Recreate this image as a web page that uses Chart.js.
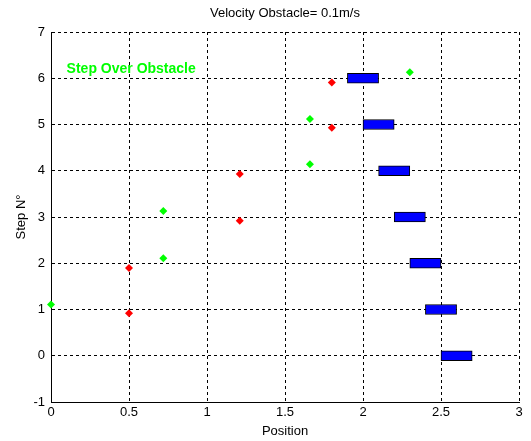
<!DOCTYPE html>
<html>
<head>
<meta charset="utf-8">
<script src="https://cdn.jsdelivr.net/npm/chart.js@4/dist/chart.umd.min.js"></script>
<style>
html,body{margin:0;padding:0;background:#fff;}
#wrap{width:531px;height:441px;}
</style>
</head>
<body>
<div id="wrap"><canvas id="c" width="531" height="441"></canvas></div>
<script>
const steps = [0, 1, 2, 3, 4, 5, 6];
const obstacleStart = [2.5, 2.4, 2.3, 2.2, 2.1, 2.0, 1.9];
const obstacleEnd = [2.7, 2.6, 2.5, 2.4, 2.3, 2.2, 2.1];
const redX = [0.5, 0.5, 1.21, 1.21, 1.8, 1.8];
const redY = [0.92, 1.9, 2.92, 3.93, 4.93, 5.91];
const greenX = [0, 0.72, 0.72, 1.66, 1.66, 2.3];
const greenY = [1.11, 2.11, 3.13, 4.14, 5.12, 6.13];
const xTicks = [0, 0.5, 1, 1.5, 2, 2.5, 3];
const yTicks = [-1, 0, 1, 2, 3, 4, 5, 6, 7];
const titleText = 'Velocity Obstacle= 0.1m/s';
const xLabel = 'Position';
const yLabel = 'Step N°';
const noteText = 'Step Over Obstacle';
const noteAt = [0.1, 6.2];

const FONT = 'Liberation Sans, Arial, Helvetica, sans-serif';

const notePlugin = {
  id: 'note',
  afterDatasetsDraw(chart) {
    const ctx = chart.ctx;
    const xs = chart.scales.x, ys = chart.scales.y;
    const area = chart.chartArea;
    ctx.save();
    ctx.font = 'bold 14px ' + FONT;
    ctx.fillStyle = '#00ff00';
    ctx.textAlign = 'left';
    ctx.textBaseline = 'middle';
    ctx.fillText(noteText, xs.getPixelForValue(noteAt[0]), ys.getPixelForValue(noteAt[1]));
    ctx.font = '13px ' + FONT;
    ctx.fillStyle = '#000';
    ctx.textAlign = 'center';
    ctx.fillText(titleText, (area.left + area.right) / 2, 13);
    ctx.restore();
  }
};

new Chart(document.getElementById('c'), {
  type: 'bar',
  data: {
    datasets: [
      {
        type: 'bar',
        indexAxis: 'y',
        label: 'Obstacle',
        data: steps.map((s, i) => ({ x: [obstacleStart[i], obstacleEnd[i]], y: s })),
        backgroundColor: '#0000ff',
        borderColor: '#000000',
        borderWidth: 1,
        borderSkipped: false,
        barThickness: 10,
        xAxisID: 'x',
        yAxisID: 'y'
      },
      {
        type: 'scatter',
        label: 'Red',
        data: redX.map((x, i) => ({ x: x, y: redY[i] })),
        pointStyle: 'rectRot',
        pointRadius: 4,
        backgroundColor: '#ff0000',
        borderColor: '#ff0000',
        borderWidth: 0,
        clip: false,
        xAxisID: 'x',
        yAxisID: 'y'
      },
      {
        type: 'scatter',
        label: 'Green',
        data: greenX.map((x, i) => ({ x: x, y: greenY[i] })),
        pointStyle: 'rectRot',
        pointRadius: 4,
        backgroundColor: '#00ff00',
        borderColor: '#00ff00',
        borderWidth: 0,
        clip: false,
        xAxisID: 'x',
        yAxisID: 'y'
      }
    ]
  },
  options: {
    responsive: false,
    animation: false,
    devicePixelRatio: 1,
    layout: { padding: { left: 0, right: 12, top: 32, bottom: 0 } },
    plugins: {
      legend: { display: false },
      tooltip: { enabled: false },
      title: { display: false }
    },
    scales: {
      x: {
        type: 'linear',
        position: 'bottom',
        offset: false,
        min: 0, max: 3,
        afterBuildTicks: (s) => { s.ticks = xTicks.map(v => ({ value: v })); },
        afterFit: (s) => { s.height = 39; },
        ticks: { color: '#000', font: { family: FONT, size: 13 }, padding: 3, maxRotation: 0,
                 callback: (v) => String(v) },
        grid: { color: '#000', lineWidth: 1, drawTicks: false, offset: false },
        border: { display: true, color: '#000', width: 1, dash: [3, 3] },
        title: { display: true, text: xLabel, color: '#000', font: { family: FONT, size: 13 }, padding: { top: 2, bottom: 2 } }
      },
      y: {
        type: 'linear',
        position: 'left',
        offset: false,
        min: -1, max: 7,
        afterBuildTicks: (s) => { s.ticks = yTicks.map(v => ({ value: v })); },
        afterFit: (s) => { s.width = 51; },
        ticks: { color: '#000', font: { family: FONT, size: 13 }, padding: 6,
                 callback: (v) => String(v) },
        grid: { color: '#000', lineWidth: 1, drawTicks: false, offset: false },
        border: { display: true, color: '#000', width: 1, dash: [3, 3] },
        title: { display: true, text: yLabel, color: '#000', font: { family: FONT, size: 13 }, padding: { top: 14, bottom: 0 } }
      }
    }
  },
  plugins: [notePlugin]
});
</script>
</body>
</html>
